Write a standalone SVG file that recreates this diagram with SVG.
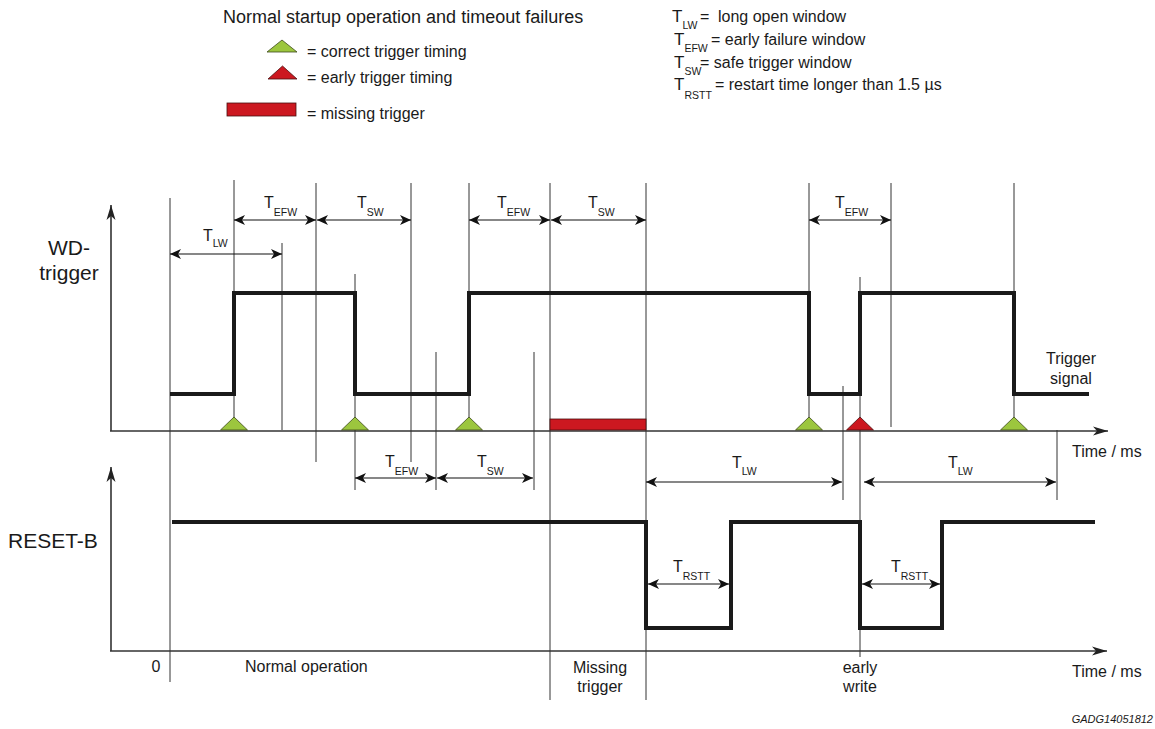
<svg xmlns="http://www.w3.org/2000/svg" width="1155" height="729" viewBox="0 0 1155 729">
<style>
text{font-family:"Liberation Sans",Arial,sans-serif;fill:#1a1a1a}
.t16{font-size:16px}
.t18{font-size:18px}
.t21{font-size:21px}
.T{font-size:16px}
.TL{font-size:17px}
.sub{font-size:10.5px}
.guide{stroke:#333;stroke-width:1;fill:none}
.axis{stroke:#333;stroke-width:1.6;fill:none}
.wave{stroke:#1a1a1a;stroke-width:4;fill:none;stroke-linejoin:miter;stroke-linecap:butt}
.dim{stroke:#111;stroke-width:1.2;fill:none}
.green{fill:#9cc63e;stroke:#3d4a1c;stroke-width:0.8}
.red{fill:#cc1820;stroke:#4a1010;stroke-width:0.8}
.mid{text-anchor:middle}
</style>
<defs>
<marker id="ah" viewBox="-12 -6 13 12" refX="0" refY="0" markerWidth="13" markerHeight="12" markerUnits="userSpaceOnUse" orient="auto-start-reverse">
<path d="M0,0 L-11,-5 L-8,0 L-11,5 Z" fill="#111"/>
</marker>
<marker id="ax" viewBox="-16 -6 17 12" refX="0" refY="0" markerWidth="17" markerHeight="12" markerUnits="userSpaceOnUse" orient="auto">
<path d="M0,0 L-15,-4.5 L-11,0 L-15,4.5 Z" fill="#222"/>
</marker>
</defs>

<g id="legend">
<text class="t18" x="223" y="23">Normal startup operation and timeout failures</text>
<polygon class="green" points="267,52 297,52 282,40"/>
<text class="t16" x="307" y="57">= correct trigger timing</text>
<polygon class="red" points="268,79 297,79 282.5,66"/>
<text class="t16" x="307" y="83">= early trigger timing</text>
<rect class="red" x="227" y="103" width="69" height="13"/>
<text class="t16" x="307" y="119">= missing trigger</text>

<text class="TL" x="672" y="22">T<tspan class="sub" y="29">LW</tspan></text>
<text class="t16" x="700" y="22">=</text>
<text class="t16" x="718" y="22">long open window</text>
<text class="TL" x="674" y="45">T<tspan class="sub" y="52">EFW</tspan></text>
<text class="t16" x="711" y="45">= early failure window</text>
<text class="TL" x="674" y="68">T<tspan class="sub" y="75">SW</tspan></text>
<text class="t16" x="700" y="68">= safe trigger window</text>
<text class="TL" x="674" y="90">T<tspan class="sub" y="99">RSTT</tspan></text>
<text class="t16" x="715" y="90">= restart time longer than 1.5 µs</text>
</g>

<g id="guides">
<line class="guide" x1="170" y1="198" x2="170" y2="682"/>
<line class="guide" x1="234" y1="180" x2="234" y2="430"/>
<line class="guide" x1="282" y1="243" x2="282" y2="430"/>
<line class="guide" x1="316" y1="183" x2="316" y2="462"/>
<line class="guide" x1="355" y1="274" x2="355" y2="490"/>
<line class="guide" x1="411" y1="183" x2="411" y2="462"/>
<line class="guide" x1="436" y1="352" x2="436" y2="490"/>
<line class="guide" x1="469" y1="183" x2="469" y2="430"/>
<line class="guide" x1="534" y1="352" x2="534" y2="490"/>
<line class="guide" x1="550" y1="183" x2="550" y2="700"/>
<line class="guide" x1="646" y1="183" x2="646" y2="700"/>
<line class="guide" x1="809" y1="183" x2="809" y2="430"/>
<line class="guide" x1="843" y1="386" x2="843" y2="500"/>
<line class="guide" x1="860" y1="277" x2="860" y2="657"/>
<line class="guide" x1="891" y1="183" x2="891" y2="427"/>
<line class="guide" x1="1014" y1="183" x2="1014" y2="430"/>
<line class="guide" x1="1057" y1="430" x2="1057" y2="500"/>
</g>

<g id="axes">
<line class="axis" x1="111" y1="431" x2="111" y2="205" marker-end="url(#ax)"/>
<line class="axis" x1="110" y1="431" x2="1108" y2="431" marker-end="url(#ax)"/>
<line class="axis" x1="111" y1="651" x2="111" y2="467" marker-end="url(#ax)"/>
<line class="axis" x1="110" y1="651" x2="1107" y2="651" marker-end="url(#ax)"/>
</g>

<g id="wd-trigger">
<path class="wave" d="M170,394 H234 V293 H355 V394 H469 V293 H809 V394 H860 V293 H1014 V394 H1089"/>
</g>

<g id="reset-b">
<path class="wave" d="M172,522 H646 V628 H731 V522 H860 V628 H942 V522 H1095"/>
</g>

<g id="triggers">
<polygon class="green" points="220.5,430 247.5,430 234,417"/>
<polygon class="green" points="341.5,430 368.5,430 355,417"/>
<polygon class="green" points="455.5,430 482.5,430 469,417"/>
<polygon class="green" points="795.5,430 822.5,430 809,417"/>
<polygon class="red" points="846.5,430 873.5,430 860,417"/>
<polygon class="green" points="1000.5,430 1027.5,430 1014,417"/>
<rect class="red" x="550" y="419" width="96" height="11"/>
</g>

<g id="dimensions">
<line class="dim" x1="170" y1="254" x2="282" y2="254" marker-start="url(#ah)" marker-end="url(#ah)"/>
<line class="dim" x1="234" y1="220" x2="316" y2="220" marker-start="url(#ah)" marker-end="url(#ah)"/>
<line class="dim" x1="317" y1="220" x2="411" y2="220" marker-start="url(#ah)" marker-end="url(#ah)"/>
<line class="dim" x1="469" y1="220" x2="550" y2="220" marker-start="url(#ah)" marker-end="url(#ah)"/>
<line class="dim" x1="551" y1="220" x2="646" y2="220" marker-start="url(#ah)" marker-end="url(#ah)"/>
<line class="dim" x1="809" y1="220" x2="891" y2="220" marker-start="url(#ah)" marker-end="url(#ah)"/>
<line class="dim" x1="355" y1="478" x2="436" y2="478" marker-start="url(#ah)" marker-end="url(#ah)"/>
<line class="dim" x1="437" y1="478" x2="533" y2="478" marker-start="url(#ah)" marker-end="url(#ah)"/>
<line class="dim" x1="646" y1="482" x2="842" y2="482" marker-start="url(#ah)" marker-end="url(#ah)"/>
<line class="dim" x1="864" y1="482" x2="1056" y2="482" marker-start="url(#ah)" marker-end="url(#ah)"/>
<line class="dim" x1="648" y1="584" x2="729" y2="584" marker-start="url(#ah)" marker-end="url(#ah)"/>
<line class="dim" x1="862" y1="584" x2="940" y2="584" marker-start="url(#ah)" marker-end="url(#ah)"/>

<text class="T" x="203" y="241">T<tspan class="sub" y="247">LW</tspan></text>
<text class="T" x="264" y="208">T<tspan class="sub" y="216">EFW</tspan></text>
<text class="T" x="357" y="208">T<tspan class="sub" y="216">SW</tspan></text>
<text class="T" x="497" y="208">T<tspan class="sub" y="216">EFW</tspan></text>
<text class="T" x="588" y="208">T<tspan class="sub" y="216">SW</tspan></text>
<text class="T" x="835" y="208">T<tspan class="sub" y="216">EFW</tspan></text>
<text class="T" x="385" y="467">T<tspan class="sub" y="475">EFW</tspan></text>
<text class="T" x="477" y="467">T<tspan class="sub" y="475">SW</tspan></text>
<text class="T" x="732" y="468">T<tspan class="sub" y="475">LW</tspan></text>
<text class="T" x="948" y="468">T<tspan class="sub" y="475">LW</tspan></text>
<text class="T" x="673" y="572">T<tspan class="sub" y="580">RSTT</tspan></text>
<text class="T" x="891" y="572">T<tspan class="sub" y="580">RSTT</tspan></text>
</g>

<g id="labels">
<text class="t21 mid" x="69" y="255">WD-</text>
<text class="t21 mid" x="69" y="280">trigger</text>
<text class="t21" x="8" y="548">RESET-B</text>
<text class="t16 mid" x="1071" y="364">Trigger</text>
<text class="t16 mid" x="1071" y="384">signal</text>
<text class="t16" x="1072" y="457">Time / ms</text>
<text class="t16" x="1072" y="677">Time / ms</text>
<text class="t16 mid" x="156" y="672">0</text>
<text class="t16" x="245" y="672">Normal operation</text>
<text class="t16 mid" x="600" y="673">Missing</text>
<text class="t16 mid" x="600" y="692">trigger</text>
<text class="t16 mid" x="860" y="673">early</text>
<text class="t16 mid" x="860" y="692">write</text>
<text x="1153" y="723" style="font-size:11px;font-style:italic;text-anchor:end">GADG14051812</text>
</g>
</svg>
